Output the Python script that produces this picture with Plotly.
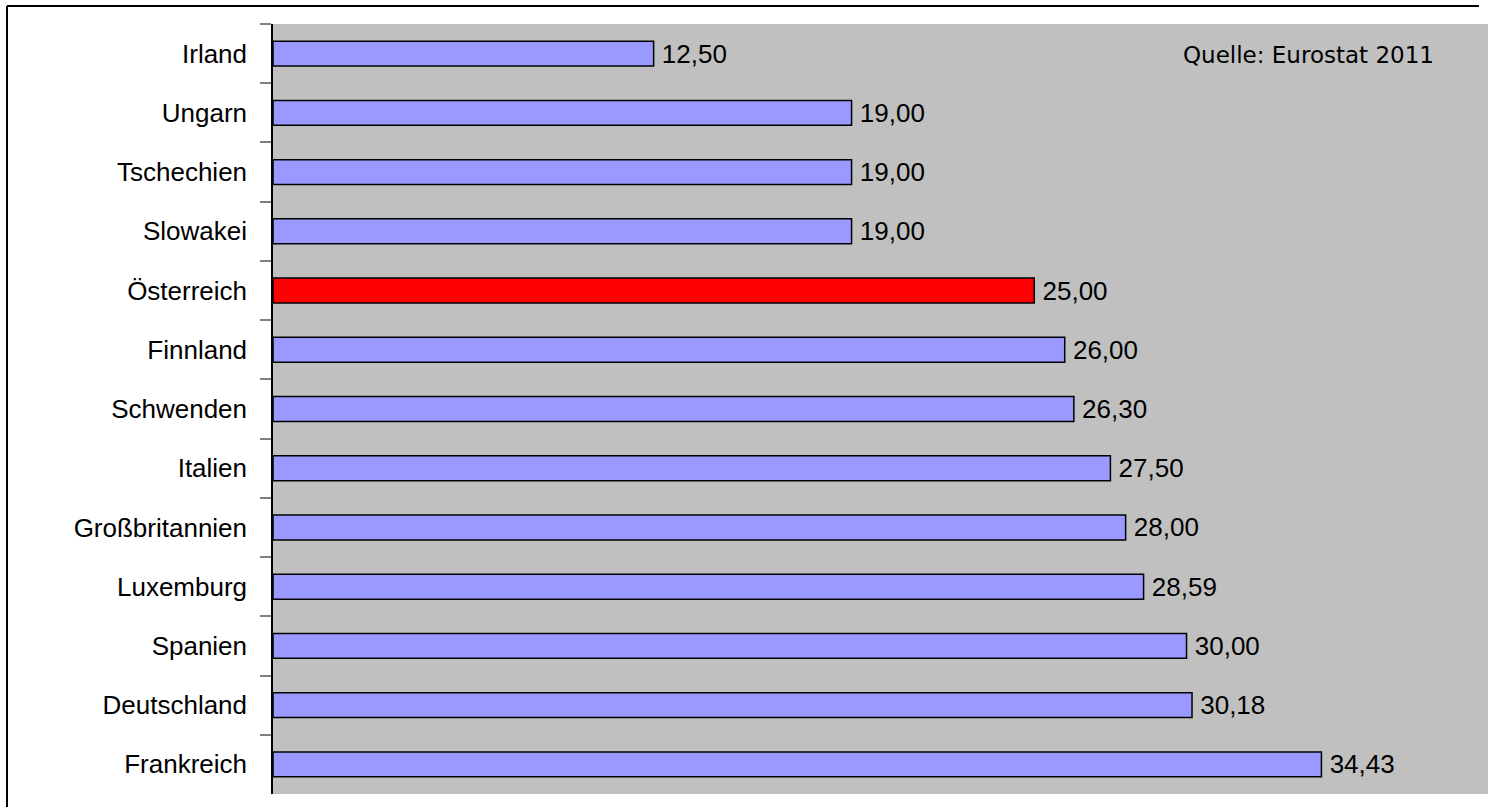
import plotly.graph_objects as go

countries = ["Irland", "Ungarn", "Tschechien", "Slowakei", "Österreich", "Finnland",
             "Schwenden", "Italien", "Großbritannien", "Luxemburg", "Spanien",
             "Deutschland", "Frankreich"]
rates = [12.50, 19.00, 19.00, 19.00, 25.00, 26.00, 26.30, 27.50, 28.00, 28.59, 30.00, 30.18, 34.43]
highlight = "Österreich"
source_note = "Quelle: Eurostat 2011"

colors = ["#FF0000" if c == highlight else "#9999FF" for c in countries]

W, H = 1488, 807
ml, mr, mt, mb = 273, 0, 24, 13
pw = W - ml - mr
ph = H - mt - mb

fig = go.Figure(go.Bar(
    x=rates, y=countries, orientation="h",
    marker=dict(color=colors, line=dict(color="#000000", width=1.5)),
    width=0.42,
    text=["\u2009" + f"{v:.2f}".replace(".", ",") for v in rates],
    textposition="outside",
    constraintext="none",
    textfont=dict(family="Liberation Sans", size=26, color="#000000"),
    cliponaxis=False,
    hoverinfo="skip",
))

bx0 = (7 - ml) / pw
bx1 = (1479 - ml) / pw
by1 = 1 + (mt - 6) / ph

fig.update_layout(
    width=W, height=H,
    margin=dict(l=ml, r=mr, t=mt, b=mb, pad=0),
    paper_bgcolor="#FFFFFF",
    plot_bgcolor="#C0C0C0",
    showlegend=False,
    separators=",.",
    font=dict(family="Liberation Sans", size=26, color="#000000"),
    xaxis=dict(range=[0, 39.9], showgrid=False, zeroline=False, showticklabels=False,
               ticks="", showline=False, fixedrange=True),
    yaxis=dict(autorange="reversed", showgrid=False, zeroline=False,
               showline=True, linecolor="#000000", linewidth=1.5,
               ticks="outside", ticklen=11, tickcolor="#808080", tickwidth=1.5,
               tickson="boundaries", ticklabelstandoff=19,
               tickfont=dict(family="Liberation Sans", size=26, color="#000000")),
    shapes=[
        dict(type="line", xref="paper", yref="paper", x0=bx0, x1=bx1, y0=by1, y1=by1,
             line=dict(color="#000000", width=2), layer="above"),
        dict(type="line", xref="paper", yref="paper", x0=bx0, x1=bx0, y0=-0.05, y1=by1,
             line=dict(color="#000000", width=2), layer="above"),
    ],
    annotations=[dict(text=source_note, xref="paper", yref="paper",
                      x=(1181 - ml) / pw, y=1 - (55 - mt) / ph,
                      xanchor="left", yanchor="middle", showarrow=False,
                      font=dict(family="DejaVu Sans", size=23, color="#000000"))],
)

fig.write_html("out.html")
